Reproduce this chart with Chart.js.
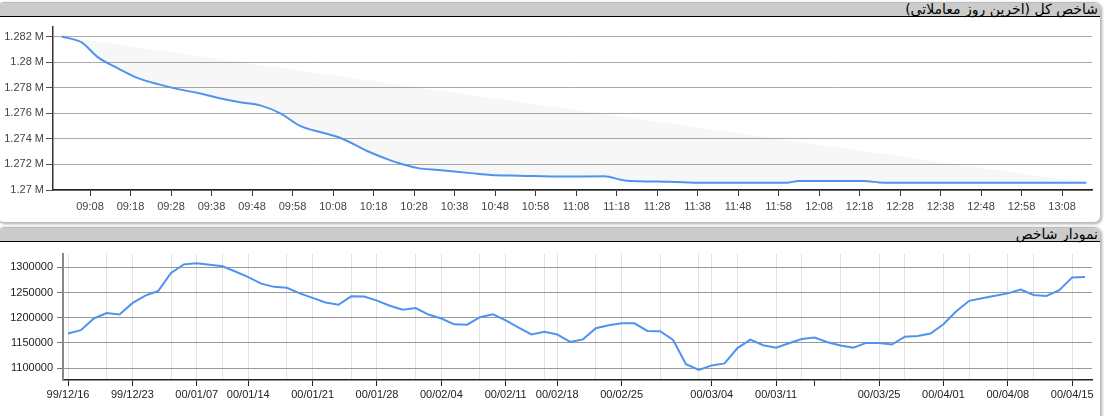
<!DOCTYPE html>
<html>
<head>
<meta charset="utf-8">
<script src="https://cdn.jsdelivr.net/npm/chart.js@4/dist/chart.umd.min.js"></script>
<style>
  body { margin: 0; width: 1107px; height: 416px; overflow: hidden; position: relative; background: #fff; }
  .panel { position: absolute; left: -3px; width: 1102px; background: #fff; border: 1px solid #bdbdbd;
           border-radius: 7px; box-shadow: 1px 1px 3px rgba(0,0,0,0.35); overflow: hidden; }
  .bar { height: 13px; background: #cbcbcb; border-bottom: 1px solid #000; position: relative; }
  .bar span { position: absolute; right: 2px; top: -2px; font: 14px "DejaVu Sans", sans-serif; line-height: 17px;
              color: #000; direction: rtl; white-space: nowrap; }
  canvas { position: absolute; left: 0; }
</style>
</head>
<body>
<div class="panel" style="top:2px;height:219px"><div class="bar"><span>شاخص کل (آخرین روز معاملاتی)</span></div></div>
<div class="panel" style="top:227px;height:200px"><div class="bar"><span>نمودار شاخص</span></div></div>
<canvas id="c1" width="1100" height="204" style="top:18px"></canvas>
<canvas id="c2" width="1100" height="173" style="top:243px"></canvas>
<script>
// intraday index (last trading day)
var dayTimes = ['09:01','09:06','09:10','09:15','09:20','09:25','09:30','09:35','09:40','09:45','09:50','09:55',
  '10:00','10:05','10:10','10:17','10:22','10:25','10:29','10:34','10:42','10:47','10:54','11:05','11:15',
  '11:20','11:31','11:39','12:00','12:03','12:19','12:24','13:14'];
var dayValues = [1282000,1281530,1280370,1279500,1278730,1278260,1277870,1277560,1277170,1276860,1276620,1276000,
  1274990,1274520,1274050,1272970,1272340,1272030,1271710,1271560,1271320,1271170,1271120,1271050,1271070,
  1270750,1270650,1270560,1270570,1270700,1270700,1270570,1270570];
var dayTicks = ['09:08','09:18','09:28','09:38','09:48','09:58','10:08','10:18','10:28','10:38','10:48','10:58',
  '11:08','11:18','11:28','11:38','11:48','11:58','12:08','12:18','12:28','12:38','12:48','12:58','13:08'];
var dayYTicks = [1270000,1272000,1274000,1276000,1278000,1280000,1282000];

// daily index
var dates = [
  '99/12/16','99/12/17','99/12/18','99/12/19','99/12/20',
  '99/12/23','99/12/24','99/12/25','99/12/26','99/12/27',
  '00/01/07','00/01/08','00/01/09','00/01/10',
  '00/01/14','00/01/15','00/01/16','00/01/17','00/01/18',
  '00/01/21','00/01/22','00/01/23','00/01/24','00/01/25',
  '00/01/28','00/01/29','00/01/30','00/01/31','00/02/01',
  '00/02/04','00/02/05','00/02/06','00/02/07','00/02/08',
  '00/02/11','00/02/12','00/02/14','00/02/15',
  '00/02/18','00/02/19','00/02/20','00/02/21','00/02/22',
  '00/02/25','00/02/26','00/02/27','00/02/28','00/02/29','00/03/01','00/03/02',
  '00/03/04','00/03/05','00/03/08','00/03/09','00/03/10',
  '00/03/11','00/03/12','00/03/17','00/03/18','00/03/19',
  '00/03/22','00/03/23','00/03/24',
  '00/03/25','00/03/26','00/03/29','00/03/30','00/03/31',
  '00/04/01','00/04/02','00/04/05','00/04/06','00/04/07',
  '00/04/08','00/04/09','00/04/12','00/04/13','00/04/14',
  '00/04/15','00/04/16'];
var indexValues = [
  1168800,1175400,1198600,1209500,1206400,1228900,1243800,1252900,1288900,1305800,
  1307800,1305200,1301900,1291700,1280600,1267600,1261200,1259300,1248300,1239300,
  1230200,1225800,1242400,1241900,1234000,1223800,1216100,1219200,1206400,1198600,
  1187000,1186300,1201200,1207000,1194700,1180400,1166900,1172100,1166900,1152100,
  1157200,1179300,1185100,1189000,1189000,1174000,1173400,1156000,1108100,1096500,
  1105600,1109500,1140000,1156600,1145600,1140500,1149400,1157900,1161000,1151400,
  1145000,1140500,1150200,1150000,1146900,1162400,1163700,1168800,1187000,1212800,
  1233500,1238600,1243800,1248300,1256000,1245200,1243200,1254800,1280000,1280600];
var labelDates = ['99/12/16','99/12/23','00/01/07','00/01/14','00/01/21','00/01/28','00/02/04','00/02/11',
  '00/02/18','00/02/25','00/03/04','00/03/11','00/03/25','00/04/01','00/04/08','00/04/15'];
var markDates = labelDates.concat(['00/03/18']);
var gridDates = ['99/12/16','99/12/19','99/12/23','99/12/26','00/01/07','00/01/09','00/01/14','00/01/17',
  '00/01/21','00/01/24','00/01/28','00/01/31','00/02/04','00/02/07','00/02/11','00/02/15','00/02/18',
  '00/02/21','00/02/25','00/02/28','00/03/02','00/03/04','00/03/08','00/03/11','00/03/17','00/03/22',
  '00/03/25','00/03/29','00/04/01','00/04/05','00/04/08','00/04/12','00/04/15'];
var indexYTicks = [1100000,1150000,1200000,1250000,1300000];

var lineColor = '#4f93ef';
Chart.defaults.font.family = '"Liberation Sans", Arial, sans-serif';
Chart.defaults.font.size = 11;

function toMin(s) {
  var p = s.split(':');
  return +p[0] * 60 + +p[1];
}
function pad2(n) { return (n < 10 ? '0' : '') + n; }

var dayPoints = dayTimes.map(function (t, i) { return { x: toMin(t), y: dayValues[i] }; });
var n = dayPoints.length;
var trendPoints = [dayPoints[0], dayPoints[n - 1]];

new Chart(document.getElementById('c1'), {
  type: 'line',
  data: {
    datasets: [
      { data: dayPoints, borderColor: lineColor, borderWidth: 2, pointRadius: 0,
        cubicInterpolationMode: 'monotone', fill: false },
      { data: trendPoints, borderWidth: 0, borderColor: 'rgba(0,0,0,0)', pointRadius: 0,
        fill: '-1', backgroundColor: 'rgba(0,0,0,0.03)' }
    ]
  },
  options: {
    responsive: false,
    animation: false,
    layout: { padding: { top: 7, right: 8, left: 0, bottom: 0 } },
    plugins: { legend: { display: false }, tooltip: { enabled: false } },
    scales: {
      x: {
        type: 'linear', min: 538.86, max: 795.4,
        afterBuildTicks: function (s) { s.ticks = dayTicks.map(function (t) { return { value: toMin(t) }; }); },
        afterFit: function (s) { s.height = 32; },
        grid: { drawOnChartArea: false, tickLength: 6, tickColor: '#333' },
        border: { color: '#222', width: 1.5 },
        ticks: { color: '#444', padding: 4, autoSkip: false, maxRotation: 0,
          callback: function (v) { return pad2(Math.floor(v / 60)) + ':' + pad2(v % 60); } }
      },
      y: {
        min: 1270000, max: 1282780,
        afterBuildTicks: function (s) { s.ticks = dayYTicks.map(function (v) { return { value: v }; }); },
        afterFit: function (s) { s.width = 53; },
        grid: { color: '#aaa', tickLength: 7, tickColor: '#555' },
        border: { color: '#333', width: 1.5 },
        ticks: { color: '#444', padding: 2, callback: function (v) { return (v / 1e6) + ' M'; } }
      }
    }
  }
});

var gridIdx = gridDates.map(function (d) { return dates.indexOf(d); });
var markIdx = markDates.map(function (d) { return dates.indexOf(d); });

new Chart(document.getElementById('c2'), {
  type: 'line',
  data: {
    datasets: [
      { data: indexValues.map(function (v, i) { return { x: i, y: v }; }),
        borderColor: lineColor, borderWidth: 2, pointRadius: 0, tension: 0, fill: false }
    ]
  },
  options: {
    responsive: false,
    animation: false,
    layout: { padding: { top: 8, right: 8, left: 0, bottom: 0 } },
    plugins: { legend: { display: false }, tooltip: { enabled: false } },
    scales: {
      x: {
        type: 'linear', min: -0.39, max: 79.54,
        afterBuildTicks: function (s) { s.ticks = dates.map(function (d, i) { return { value: i }; }); },
        afterFit: function (s) { s.height = 36; },
        grid: {
          tickLength: 6,
          color: function (c) { return gridIdx.indexOf(c.tick && c.tick.value) >= 0 ? '#e3e3e3' : 'rgba(0,0,0,0)'; },
          tickColor: function (c) { return markIdx.indexOf(c.tick && c.tick.value) >= 0 ? '#222' : 'rgba(0,0,0,0)'; }
        },
        border: { color: '#222', width: 1.5 },
        ticks: { color: '#222', padding: 2, autoSkip: false, maxRotation: 0,
          callback: function (v) { var d = dates[v]; return labelDates.indexOf(d) >= 0 ? d : ''; } }
      },
      y: {
        min: 1076700, max: 1327100,
        afterBuildTicks: function (s) { s.ticks = indexYTicks.map(function (v) { return { value: v }; }); },
        afterFit: function (s) { s.width = 63; },
        grid: { color: '#999', tickLength: 6, tickColor: '#777' },
        border: { color: '#888', width: 2 },
        ticks: { color: '#222', padding: 4, callback: function (v) { return String(v); } }
      }
    }
  }
});
</script>
</body>
</html>
